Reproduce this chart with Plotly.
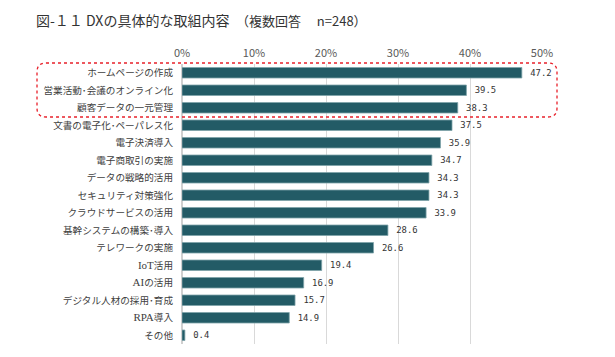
import plotly.graph_objects as go

categories = [
    "ホームページの作成", "営業活動･会議のオンライン化", "顧客データの一元管理",
    "文書の電子化･ペーパレス化", "電子決済導入", "電子商取引の実施",
    "データの戦略的活用", "セキュリティ対策強化", "クラウドサービスの活用",
    "基幹システムの構築･導入", "テレワークの実施", "IoT活用", "AIの活用",
    "デジタル人材の採用･育成", "RPA導入", "その他",
]
values = [47.2, 39.5, 38.3, 37.5, 35.9, 34.7, 34.3, 34.3, 33.9, 28.6, 26.6,
          19.4, 16.9, 15.7, 14.9, 0.4]
tick_vals = [0, 10, 20, 30, 40, 50]
tick_text = ["0%", "10%", "20%", "30%", "40%", "50%"]

JP = "Noto Sans CJK JP"
SERIF = "Liberation Serif"

W, H = 615, 357
L, R, T, B = 182, 73, 64, 13
pw, ph = W - L - R, H - T - B


def label(c):
    # latin words in the reference are set in a serif face
    for w in ("IoT", "AI", "RPA"):
        if c.startswith(w):
            return f"<span style='font-family:{SERIF};font-size:11px'>{w}</span>{c[len(w):]}"
    return c


fig = go.Figure(go.Bar(
    x=values, y=categories, orientation="h",
    marker=dict(color="#235b66", line=dict(color="#7fa3aa", width=0.8)),
    text=["\u00a0" + f"{v:.1f}" for v in values], textposition="outside",
    textfont=dict(family="DejaVu Sans Mono", size=11, color="#333333"),
    cliponaxis=False, width=0.6,
))

fig.update_layout(
    width=W, height=H, plot_bgcolor="white", paper_bgcolor="white",
    margin=dict(l=L, r=R, t=T, b=B, autoexpand=False),
    showlegend=False,
    xaxis=dict(range=[0, 50], side="top", tickvals=tick_vals, ticktext=tick_text,
               showgrid=True, gridcolor="#d9d9d9", gridwidth=1, zeroline=True,
               zerolinecolor="#d0d0d0", ticks="", ticklabelstandoff=4,
               automargin=False,
               tickfont=dict(family=JP, size=11, color="#595959")),
    yaxis=dict(autorange="reversed", ticks="", ticklabelstandoff=8,
               automargin=False, tickvals=categories,
               ticktext=[label(c) for c in categories],
               tickfont=dict(family=JP, size=9.6, color="#404040")),
    font=dict(family=JP),
)

fig.add_annotation(
    xref="paper", yref="paper", x=(34 - L) / pw, y=1 + (T - 20) / ph,
    xanchor="left", yanchor="middle",
    text="図-１１ DXの具体的な取組内容<span style='font-size:13px'>　（複数回答　 n=248）</span>",
    showarrow=False, font=dict(family=JP, size=14, color="#333333"),
)

# rounded dotted highlight box around top three
x0, x1 = 37, 557
y0, y1 = 63, 117
r = 9


def px(xp):
    return (xp - L) / pw


def py(yp):
    return 1 - (yp - T) / ph


path = (f"M {px(x0 + r)} {py(y0)} L {px(x1 - r)} {py(y0)} "
        f"Q {px(x1)} {py(y0)} {px(x1)} {py(y0 + r)} L {px(x1)} {py(y1 - r)} "
        f"Q {px(x1)} {py(y1)} {px(x1 - r)} {py(y1)} L {px(x0 + r)} {py(y1)} "
        f"Q {px(x0)} {py(y1)} {px(x0)} {py(y1 - r)} L {px(x0)} {py(y0 + r)} "
        f"Q {px(x0)} {py(y0)} {px(x0 + r)} {py(y0)} Z")
fig.add_shape(type="path", path=path, xref="paper", yref="paper",
              line=dict(color="#e8202a", width=1.3, dash="dot"))

fig.write_html("out.html", config={"displayModeBar": False},
               post_script="document.body.style.margin='0';document.body.style.padding='0';")
